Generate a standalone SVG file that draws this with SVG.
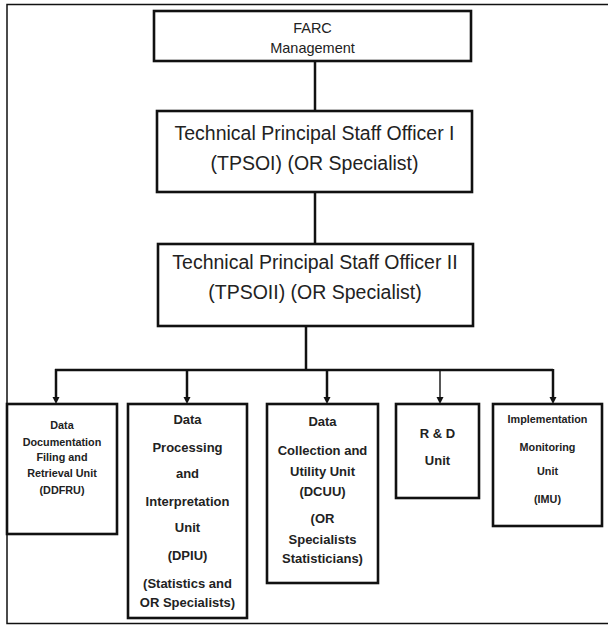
<svg xmlns="http://www.w3.org/2000/svg" width="608" height="625" viewBox="0 0 608 625">
<defs>
<style>
.box{fill:#fff;stroke:#111;stroke-width:2.6}
.con{fill:none;stroke:#111;stroke-width:2.5}
.thin{fill:none;stroke:#111;stroke-width:1.4}
text{font-family:"Liberation Sans",Arial,sans-serif;fill:#222;text-anchor:middle}
.big{font-size:19.5px}
.mid{font-size:14.5px}
.b13{font-size:13px;font-weight:bold}
.b11{font-size:10.8px;font-weight:bold}
</style>
<marker id="ah" markerUnits="userSpaceOnUse" markerWidth="8" markerHeight="8" refX="0" refY="3.5" orient="auto">
<path d="M0,0 L7,3.5 L0,7 z" fill="#111"/>
</marker>
</defs>
<rect x="7" y="4.5" width="620" height="619" fill="#fff" stroke="#111" stroke-width="1.5"/>
<g id="connectors">
<line class="con" x1="315" y1="61" x2="315" y2="111"/>
<line class="con" x1="315" y1="192" x2="315" y2="244"/>
<polyline class="con" points="306,326 306,370"/>
<line class="con" x1="55" y1="370" x2="553" y2="370"/>
<line class="con" x1="56" y1="369" x2="56" y2="397" marker-end="url(#ah)"/>
<line class="con" x1="187" y1="369" x2="187" y2="397" marker-end="url(#ah)"/>
<line class="con" x1="327" y1="369" x2="327" y2="397" marker-end="url(#ah)"/>
<line class="thin" x1="440" y1="369" x2="440" y2="397" marker-end="url(#ah)"/>
<line class="con" x1="553" y1="369" x2="553" y2="397" marker-end="url(#ah)"/>
</g>
<g id="farc">
<rect class="box" x="154" y="11" width="317" height="50"/>
<text class="mid" x="312.5" y="33">FARC</text>
<text class="mid" x="312.5" y="53">Management</text>
</g>
<g id="tpsoi">
<rect class="box" x="157" y="111" width="315" height="81"/>
<text class="big" x="314.5" y="140">Technical  Principal Staff Officer I</text>
<text class="big" x="314.5" y="170">(TPSOI) (OR Specialist)</text>
</g>
<g id="tpsoii">
<rect class="box" x="158" y="244" width="315" height="82"/>
<text class="big" x="315" y="269">Technical  Principal Staff Officer II</text>
<text class="big" x="315" y="299">(TPSOII) (OR Specialist)</text>
</g>
<g id="ddfru">
<rect class="box" x="7" y="404" width="110" height="130"/>
<text class="b11" x="62" y="429">Data</text>
<text class="b11" x="62" y="446">Documentation</text>
<text class="b11" x="62" y="461">Filing  and</text>
<text class="b11" x="62" y="477">Retrieval Unit</text>
<text class="b11" x="62" y="494">(DDFRU)</text>
</g>
<g id="dpiu">
<rect class="box" x="128" y="404" width="119" height="214"/>
<text class="b13" x="187.5" y="424">Data</text>
<text class="b13" x="187.5" y="452">Processing</text>
<text class="b13" x="187.5" y="478">and</text>
<text class="b13" x="187.5" y="506">Interpretation</text>
<text class="b13" x="187.5" y="532">Unit</text>
<text class="b13" x="187.5" y="560">(DPIU)</text>
<text class="b13" x="187.5" y="588">(Statistics and</text>
<text class="b13" x="187.5" y="607">OR Specialists)</text>
</g>
<g id="dcuu">
<rect class="box" x="267" y="404" width="111" height="179"/>
<text class="b13" x="322.5" y="426">Data</text>
<text class="b13" x="322.5" y="455">Collection and</text>
<text class="b13" x="322.5" y="476">Utility Unit</text>
<text class="b13" x="322.5" y="496">(DCUU)</text>
<text class="b13" x="322.5" y="523">(OR</text>
<text class="b13" x="322.5" y="544">Specialists</text>
<text class="b13" x="322.5" y="563">Statisticians)</text>
</g>
<g id="rd">
<rect class="box" x="396" y="404" width="83" height="94"/>
<text class="b13" x="437.5" y="438">R &amp; D</text>
<text class="b13" x="437.5" y="465">Unit</text>
</g>
<g id="imu">
<rect class="box" x="493" y="404" width="109" height="122"/>
<text class="b11" x="547.5" y="423">Implementation</text>
<text class="b11" x="547.5" y="451">Monitoring</text>
<text class="b11" x="547.5" y="475">Unit</text>
<text class="b11" x="547.5" y="503">(IMU)</text>
</g>
</svg>
